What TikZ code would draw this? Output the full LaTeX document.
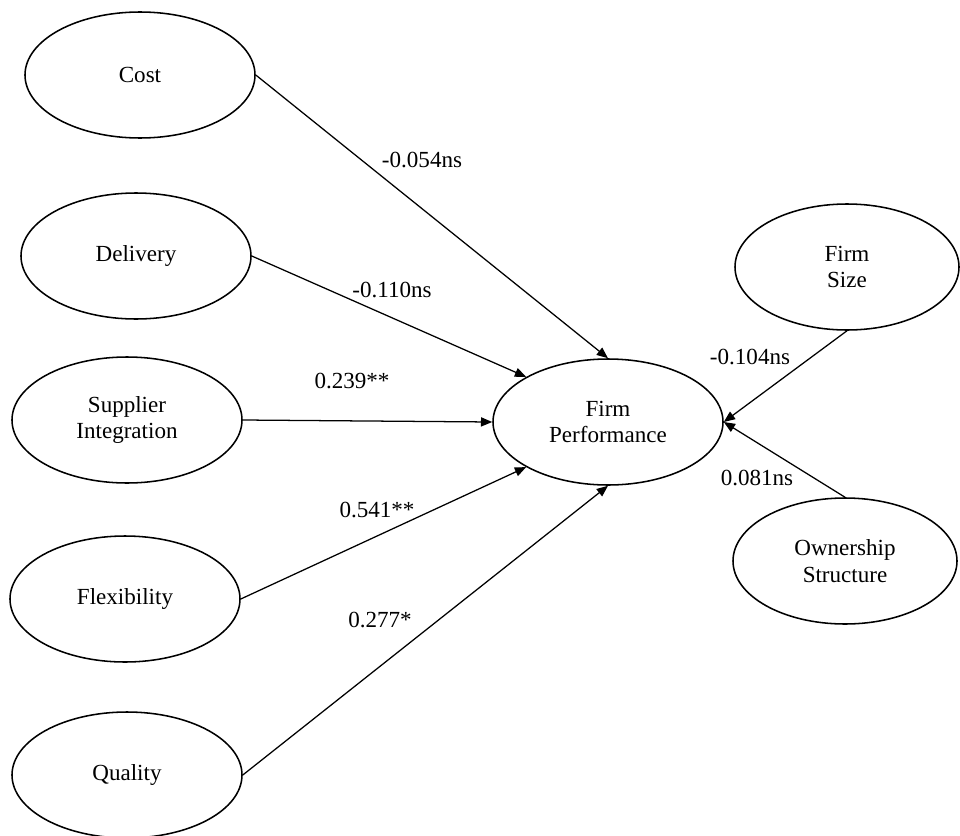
\documentclass[tikz,border=0pt]{standalone}
\usepackage{fontspec}
\setmainfont{Liberation Serif}
\usetikzlibrary{shapes.geometric,arrows.meta}

\begin{document}
\begin{tikzpicture}[x=0.25mm,y=-0.25mm,
   font=\fontsize{16.4}{19}\selectfont,
   construct/.style={draw,ellipse,line width=1.1pt,minimum width=5.75cm,minimum height=3.15cm,inner sep=0pt,align=center},
   control/.style={construct,minimum width=5.6cm},
   path/.style={black,line width=0.9pt,-{Triangle[length=8pt,width=6.5pt]}}]
   \useasboundingbox (0,0) rectangle (960,835);
   \node[construct] (cost) at (140,75) {Cost};
   \node[construct] (delivery) at (136,256) {Delivery};
   \node[construct] (supplier) at (127,420) {Supplier\\Integration};
   \node[construct] (flex) at (125,599) {Flexibility};
   \node[construct] (quality) at (127,775) {Quality};
   \node[construct] (perf) at (608,422) {Firm\\Performance};
   \node[control] (size) at (847,267) {Firm\\Size};
   \node[control] (owner) at (845,561) {Ownership\\Structure};
   \draw[path] (cost.east)--(perf.north);
   \draw[path] (delivery.east)--(perf.north west);
   \draw[path] (supplier.east)--(perf.west);
   \draw[path] (flex.east)--(perf.south west);
   \draw[path] (quality.east)--(perf.south);
   \draw[path] (size.south)--(perf.east);
   \draw[path] (owner.north)--(perf.east);
   \node (bcost) at (422,160) {-0.054ns};
   \node (bdelivery) at (392,290) {-0.110ns};
   \node (bsupplier) at (352,381) {0.239**};
   \node (bflex) at (377,510) {0.541**};
   \node (bquality) at (380,620) {0.277*};
   \node (bsize) at (750,357) {-0.104ns};
   \node (bowner) at (757,478) {0.081ns};
\end{tikzpicture}
\end{document}
